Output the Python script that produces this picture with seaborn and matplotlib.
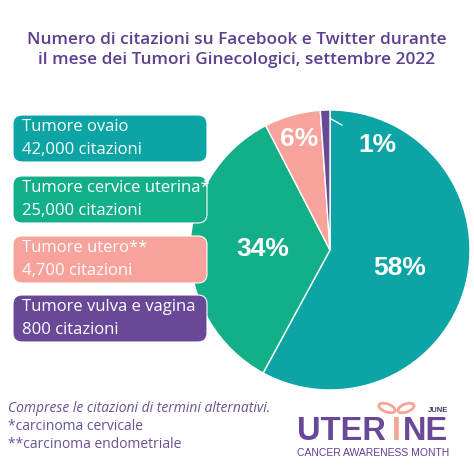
import numpy as np
import matplotlib
matplotlib.use("Agg")
import matplotlib.pyplot as plt
import seaborn as sns
from matplotlib.patches import FancyBboxPatch, Ellipse

# data
categories = ["Tumore ovaio", "Tumore cervice uterina*", "Tumore utero**", "Tumore vulva e vagina"]
citations = [42000, 25000, 4700, 800]
citation_labels = ["42,000 citazioni", "25,000 citazioni", "4,700 citazioni", "800 citazioni"]

title = "Numero di citazioni su Facebook e Twitter durante\nil mese dei Tumori Ginecologici, settembre 2022"
notes = ["Comprese le citazioni di termini alternativi.", "*carcinoma cervicale", "**carcinoma endometriale"]

sns.set_theme(style="white")
plt.rcParams["font.family"] = ["Open Sans", "DejaVu Sans"]

colors = ["#0ca4a5", "#13af88", "#f7a29b", "#6a4898"]
purple = "#5e3f91"

fig = plt.figure(figsize=(4.74, 4.74), dpi=100)
fig.patch.set_facecolor("white")

# pie axes (center ~ (330,250) px, radius 140 px)
ax = fig.add_axes([190 / 474, 1 - 390 / 474, 280 / 474, 280 / 474])
wedges, _ = ax.pie(citations, colors=colors, startangle=90, counterclock=False,
                   wedgeprops=dict(edgecolor="white", linewidth=1.0))
ax.set_xlim(-1, 1)
ax.set_ylim(-1, 1)
ax.set_aspect("equal")
ax.axis("off")

pct_font = ["Liberation Sans", "DejaVu Sans"]
total = sum(citations)
label_r = [0.51, 0.48, 0.82]
for w, v, r in zip(wedges[:3], citations[:3], label_r):
    ang = np.deg2rad((w.theta1 + w.theta2) / 2)
    ax.text(r * np.cos(ang), r * np.sin(ang), f"{round(100 * v / total)}%",
            ha="center", va="center", color="white", fontsize=19,
            fontweight="bold", family=pct_font)

# small slice label with leader line
ax.annotate(f"{round(100 * citations[3] / total)}%", xy=(0.0, 0.94), xytext=(0.34, 0.75),
            ha="center", va="center", color="white", fontsize=19, fontweight="bold",
            family=pct_font,
            arrowprops=dict(arrowstyle="-", color="white", lw=1.0, shrinkA=11, shrinkB=0))

# overlay axes in pixel coordinates
ov = fig.add_axes([0, 0, 1, 1], zorder=5)
ov.set_xlim(0, 474)
ov.set_ylim(474, 0)
ov.axis("off")
ov.patch.set_alpha(0)

ov.text(237, 50, title, ha="center", va="center", color=purple, fontsize=12.4,
        fontweight="semibold", linespacing=1.4)

box_tops = [115, 176, 236, 295]
for top, cat, lab, c in zip(box_tops, categories, citation_labels, colors):
    ov.add_patch(FancyBboxPatch((13, top), 194, 47, boxstyle="round,pad=0,rounding_size=9",
                                facecolor=c, edgecolor="white", linewidth=0.8))
    ov.text(22, top + 12, cat, ha="left", va="center", color="white", fontsize=12)
    ov.text(22, top + 35, lab, ha="left", va="center", color="white", fontsize=12)

# footnotes
note_color = "#6a5290"
ov.text(8, 409, notes[0], ha="left", va="center", color=note_color, fontsize=10, style="italic")
ov.text(8, 427, notes[1], ha="left", va="center", color=note_color, fontsize=10)
ov.text(8, 445, notes[2], ha="left", va="center", color=note_color, fontsize=10)

# logo
logo_font = ["Liberation Sans", "DejaVu Sans"]
ov.text(297, 431, "UTER", ha="left", va="center", color="#6a4898", fontsize=23.5,
        fontweight="bold", family=logo_font)
ov.text(396.5, 431, "I", ha="center", va="center", color="#f4a596", fontsize=23.5,
        fontweight="bold", family=logo_font)
ov.text(448, 431, "NE", ha="right", va="center", color="#6a4898", fontsize=23.5,
        fontweight="bold", family=logo_font)
ov.add_patch(Ellipse((387, 408), 17, 8, angle=20, fill=False, edgecolor="#f4a596", lw=2))
ov.add_patch(Ellipse((406, 408), 17, 8, angle=-20, fill=False, edgecolor="#f4a596", lw=2))
ov.text(448, 411, "JUNE", ha="right", va="center", color="#4a3570", fontsize=5.5,
        fontweight="bold", family=logo_font)
ov.text(373.5, 453, "CANCER AWARENESS MONTH", ha="center", va="center", color="#5e3f91",
        fontsize=7.5, family=logo_font)

fig.savefig("out.png", dpi=100, facecolor="white")
